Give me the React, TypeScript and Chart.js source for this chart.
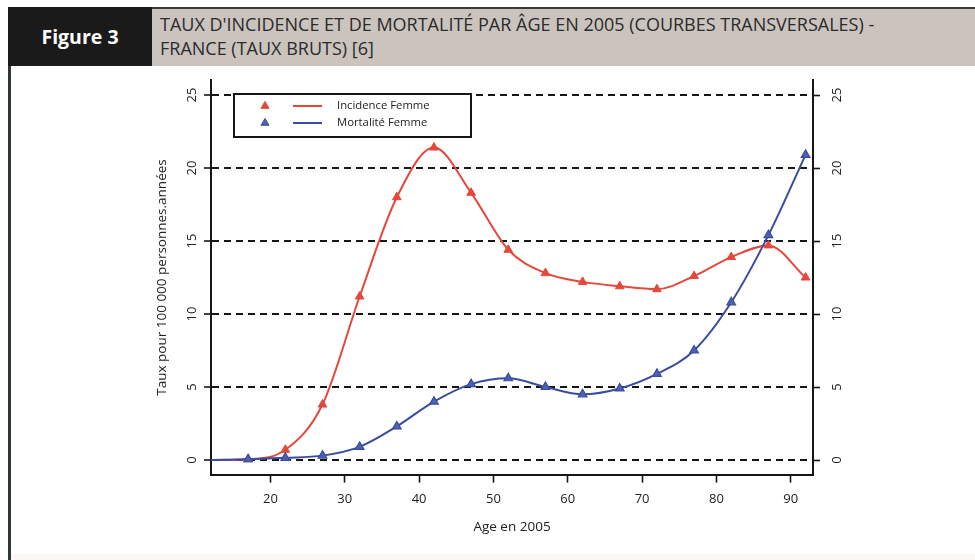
import React, { useEffect, useRef } from "react";
import { Chart, registerables } from "chart.js";

Chart.register(...registerables);

const FONT = '"Open Sans", "DejaVu Sans", sans-serif';

// ---- data ----
const ages = [12, 17, 22, 27, 32, 37, 42, 47, 52, 57, 62, 67, 72, 77, 82, 87, 92];
const incidenceFemme = [0, 0.05, 0.7, 3.8, 11.2, 18.0, 21.4, 18.3, 14.4, 12.8, 12.2, 11.9, 11.7, 12.6, 13.9, 14.7, 12.5];
const mortaliteFemme = [0, 0.05, 0.15, 0.3, 0.9, 2.3, 4.0, 5.2, 5.6, 5.0, 4.5, 4.9, 5.9, 7.5, 10.8, 15.4, 20.9];
const markerShown = [false, true, true, true, true, true, true, true, true, true, true, true, true, true, true, true, true];
const xTickValues = [20, 30, 40, 50, 60, 70, 80, 90];
const yTickValues = [0, 5, 10, 15, 20, 25];
const seriesLabels = ["Incidence Femme", "Mortalité Femme"];
const xTitle = "Age en 2005";
const yTitle = "Taux pour 100 000 personnes.années";
const figureLabel = "Figure 3";
const titleLines = [
  "TAUX D'INCIDENCE ET DE MORTALITÉ PAR ÂGE EN 2005 (COURBES TRANSVERSALES) -",
  "FRANCE (TAUX BRUTS) [6]",
];

const RED = "#e5473b";
const BLUE = "#3a4c9f";
const BLUE_FILL = "#4d61b4";
const INK = "#161616";

const boxLegend = {
  id: "boxLegend",
  afterDraw(chart: any) {
    const { ctx, chartArea } = chart;
    const x0 = chartArea.left + 23;
    const y0 = chartArea.top + 13.6;
    const w = 237;
    const h = 43;
    ctx.save();
    ctx.fillStyle = "#ffffff";
    ctx.fillRect(x0, y0, w, h);
    ctx.strokeStyle = INK;
    ctx.lineWidth = 2;
    ctx.strokeRect(x0, y0, w, h);
    chart.data.datasets.forEach((ds: any, i: number) => {
      const cy = y0 + 12 + i * 17;
      const cx = x0 + 31;
      const r = 4.6;
      ctx.beginPath();
      for (let k = 0; k < 3; k++) {
        const a = (k * 2 * Math.PI) / 3;
        const px = cx + Math.sin(a) * r;
        const py = cy - Math.cos(a) * r;
        if (k === 0) ctx.moveTo(px, py);
        else ctx.lineTo(px, py);
      }
      ctx.closePath();
      ctx.fillStyle = ds.pointBackgroundColor;
      ctx.fill();
      ctx.strokeStyle = ds.pointBorderColor;
      ctx.lineWidth = 1;
      ctx.stroke();
      ctx.beginPath();
      ctx.moveTo(x0 + 59, cy);
      ctx.lineTo(x0 + 88, cy);
      ctx.strokeStyle = ds.borderColor;
      ctx.lineWidth = 2;
      ctx.stroke();
      ctx.fillStyle = "#222";
      ctx.font = `11.3px ${FONT}`;
      ctx.textBaseline = "middle";
      ctx.textAlign = "left";
      ctx.fillText(ds.label, x0 + 103, cy);
    });
    ctx.restore();
  },
};

export default function App() {
  const ref = useRef<HTMLCanvasElement>(null);

  useEffect(() => {
    const canvas = ref.current;
    if (!canvas) return;
    const setTicks = (vals: number[]) => (s: any) => {
      s.ticks = vals.map((v) => ({ value: v }));
    };
    const tickFont = { family: FONT, size: 13 };
    const titleFont = { family: FONT, size: 13.5 };
    const chart = new Chart(canvas, {
      type: "line",
      data: {
        datasets: [
          {
            label: seriesLabels[0],
            data: ages.map((x, i) => ({ x, y: incidenceFemme[i] })),
            borderColor: RED,
            backgroundColor: RED,
            pointBackgroundColor: RED,
            pointBorderColor: RED,
            pointBorderWidth: 1,
            pointStyle: "triangle",
            pointRadius: markerShown.map((m) => (m ? 5 : 0)),
            borderWidth: 2,
            cubicInterpolationMode: "monotone",
            fill: false,
            order: 1,
            yAxisID: "y",
          },
          {
            label: seriesLabels[1],
            data: ages.map((x, i) => ({ x, y: mortaliteFemme[i] })),
            borderColor: BLUE,
            backgroundColor: BLUE,
            pointBackgroundColor: BLUE_FILL,
            pointBorderColor: BLUE,
            pointBorderWidth: 1.2,
            pointStyle: "triangle",
            pointRadius: markerShown.map((m) => (m ? 5 : 0)),
            borderWidth: 2,
            cubicInterpolationMode: "monotone",
            fill: false,
            order: 0,
            yAxisID: "y",
          },
        ],
      },
      options: {
        responsive: false,
        animation: false,
        devicePixelRatio: 1,
        layout: { padding: { top: 12.4, left: 0, right: 0, bottom: 0 } },
        plugins: {
          legend: { display: false },
          tooltip: { enabled: false },
        },
        scales: {
          x: {
            type: "linear",
            position: "bottom",
            min: 12,
            max: 93,
            afterBuildTicks: setTicks(xTickValues),
            afterFit: (s: any) => {
              s.height = 85.4;
              s.paddingLeft = 0;
              s.paddingRight = 0;
            },
            grid: {
              drawOnChartArea: false,
              drawTicks: true,
              tickLength: 8,
              tickWidth: 1.6,
              color: INK,
              tickColor: INK,
            },
            border: { display: true, color: INK, width: 2 },
            ticks: {
              color: "#222",
              font: tickFont,
              padding: 8.5,
              autoSkip: false,
              maxRotation: 0,
              minRotation: 0,
              callback: (v: any) => String(v),
            },
            title: {
              display: true,
              text: xTitle,
              color: "#222",
              font: titleFont,
              padding: { top: 0, bottom: 24.9 },
            },
          },
          y: {
            type: "linear",
            position: "left",
            min: -1,
            max: 26,
            afterBuildTicks: setTicks(yTickValues),
            afterFit: (s: any) => {
              s.width = 71;
              s.paddingTop = 0;
              s.paddingBottom = 0;
            },
            grid: {
              drawOnChartArea: true,
              drawTicks: true,
              tickLength: 7,
              tickWidth: 1.6,
              lineWidth: 2,
              color: INK,
              tickColor: INK,
            },
            border: { display: true, color: INK, width: 2, dash: [7, 5] },
            ticks: {
              color: "#222",
              font: tickFont,
              padding: 4.6,
              minRotation: 90,
              maxRotation: 90,
              crossAlign: "center",
              autoSkip: false,
              callback: (v: any) => String(v),
            },
            title: {
              display: true,
              text: yTitle,
              color: "#222",
              font: titleFont,
              padding: { top: 13.9, bottom: 0 },
            },
          },
          y2: {
            type: "linear",
            position: "right",
            min: -1,
            max: 26,
            afterBuildTicks: setTicks(yTickValues),
            afterFit: (s: any) => {
              s.width = 162;
              s.paddingTop = 0;
              s.paddingBottom = 0;
            },
            grid: {
              drawOnChartArea: false,
              drawTicks: true,
              tickLength: 7,
              tickWidth: 1.6,
              color: INK,
              tickColor: INK,
            },
            border: { display: true, color: INK, width: 2 },
            ticks: {
              color: "#222",
              font: tickFont,
              padding: 9.6,
              minRotation: 90,
              maxRotation: 90,
              crossAlign: "center",
              autoSkip: false,
              callback: (v: any) => String(v),
            },
          },
        },
      } as any,
      plugins: [boxLegend],
    });
    return () => chart.destroy();
  }, []);

  return (
    <div
      style={{
        position: "fixed",
        left: 0,
        top: 0,
        width: 975,
        height: 560,
        background: "#ffffff",
        overflow: "hidden",
        fontFamily: FONT,
      }}
    >
      <div
        style={{
          position: "absolute",
          left: 152,
          top: 7,
          width: 823,
          height: 59,
          background: "#cac3be",
        }}
      />
      <div
        style={{
          position: "absolute",
          left: 152,
          top: 7,
          width: 823,
          height: 2,
          background: "#3a3a3a",
        }}
      />
      <div
        style={{
          position: "absolute",
          left: 8,
          top: 7,
          width: 144,
          height: 59,
          background: "#1b1a1a",
          color: "#ffffff",
          fontWeight: 700,
          fontSize: 19.5,
          display: "flex",
          alignItems: "center",
          justifyContent: "center",
        }}
      >
        {figureLabel}
      </div>
      <div
        style={{
          position: "absolute",
          left: 160,
          top: 12.4,
          fontSize: 18,
          lineHeight: "24px",
          color: "#2b2b2b",
          whiteSpace: "nowrap",
        }}
      >
        {titleLines.map((t, i) => (
          <div key={i}>{t}</div>
        ))}
      </div>
      <div
        style={{
          position: "absolute",
          left: 8,
          top: 66,
          width: 3,
          height: 494,
          background: "#2f3838",
        }}
      />
      <div
        style={{
          position: "absolute",
          left: 11,
          top: 554,
          width: 964,
          height: 6,
          background: "#fbf7f5",
        }}
      />
      <canvas
        ref={ref}
        width={835}
        height={492}
        style={{ position: "absolute", left: 140, top: 68, width: 835, height: 492, display: "block" }}
      />
    </div>
  );
}
